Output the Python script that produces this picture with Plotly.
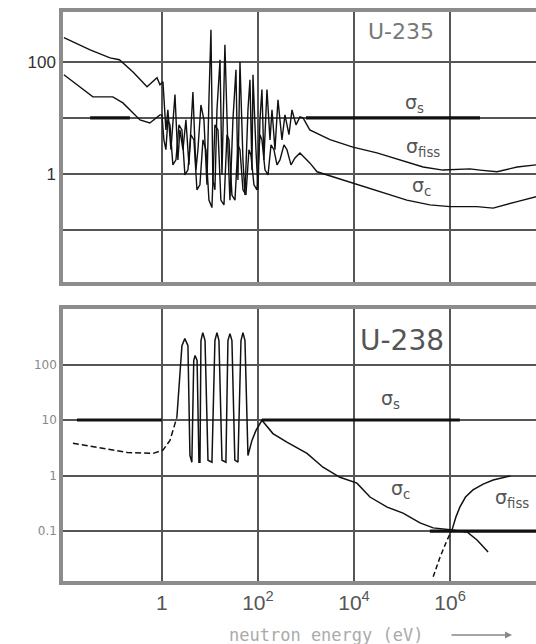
import plotly.graph_objects as go

# ---------------- U-235 (energies in eV, cross sections in barns) ----------------
u235_fis_E = [0.0091, 0.032, 0.083, 0.13, 0.25, 0.49, 0.79,
              0.91, 1.05, 1.21, 1.33, 1.54, 1.87, 2.15, 2.37, 2.74, 3.16, 3.65, 4.42,
              5.11, 5.62, 6.49, 7.5, 8.66, 9.53, 10.5, 11.5, 12.7, 14.0, 16.2, 17.8,
              20.5, 23.7, 26.1, 30.1, 34.8, 38.3, 42.2, 48.7, 53.6, 61.9, 68.1, 75.0,
              78.7, 90.8, 100, 110, 121, 133, 154, 178, 196, 226, 261, 316, 365, 442,
              511, 619, 750,
              870, 1200, 3160, 9500, 30000, 91000, 275000, 710000, 2.6e6, 4.2e6, 9.5e6,
              2.5e7, 6.2e7]
u235_fis_s = [270, 163, 118, 109, 66, 36, 52,
              39, 44, 6.1, 13.9, 2.7, 26, 1.78, 6.1, 2.7, 9.2, 1.45, 29,
              1.18, 2.7, 17, 9.2, 0.64, 21, 373, 0.78, 0.52, 13.9, 109, 0.96,
              201, 2.7, 0.34, 9.2, 72, 0.78, 100, 1.78, 0.42, 13.9, 48, 1.18,
              59, 2.7, 0.52, 9.2, 32, 1.78, 32, 4.05, 13.9, 2.7, 21, 4.05, 11.3, 5.0,
              13.9, 7.5, 10.4,
              10, 6.1, 4.1, 3.0, 2.37, 1.78, 1.33, 1.17, 1.23, 1.17, 1.09,
              1.33, 1.45]

u235_cap_E = [0.0091, 0.0365, 0.095, 0.154, 0.35, 0.56, 0.91,
              1.0, 1.10, 1.21, 1.33, 1.47, 1.69, 1.96, 2.26, 2.61, 3.01, 3.48, 4.02,
              4.64, 5.36, 6.19, 7.15, 8.25, 9.53, 11.0, 12.7, 14.7, 16.9, 19.6, 22.6,
              24.9, 28.7, 33.2, 38.3, 42.2, 48.7, 56.2, 64.9, 71.4, 82.5, 95.3, 110,
              121, 140, 162, 187, 215, 249, 287, 348, 402, 487, 590, 750,
              1200, 1700, 3650, 11500, 40000, 126000, 380000, 1.0e6, 3.6e6, 7.9e6,
              2.5e7, 6.2e7]
u235_cap_s = [59, 23.7, 23.7, 18.5, 9.2, 8.1, 11.3,
              11.3, 4.05, 2.7, 9.2, 7.5, 1.45, 1.78, 7.5, 6.1, 0.96, 1.18, 5.0,
              4.05, 0.52, 0.64, 4.05, 2.7, 0.34, 0.25, 7.5, 6.1, 0.34, 0.28, 5.0,
              4.05, 0.42, 0.34, 3.3, 2.7, 0.52, 0.42, 2.7, 2.18, 0.64, 0.52, 5.0,
              4.05, 1.18, 0.96, 3.3, 2.7, 1.45, 1.78, 3.3, 2.7, 1.45, 1.93, 2.37,
              1.57, 1.09, 0.89, 0.64, 0.46, 0.34, 0.28, 0.26, 0.26, 0.245,
              0.32, 0.39]

u235_sct_E = [0.032, 0.215, None, 1000, 4.2e6]
u235_sct_s = [10, 10, None, 10, 10]

# ---------------- U-238 ----------------
u238_sct_E = [0.017, 1.0, None, 121, 1.6e6]
u238_sct_s = [10, 10, None, 10, 10]

u238_cap_low_E = [0.014, 0.051, 0.19, 0.65, 1.05, 1.47, 1.7, 2.05]
u238_cap_low_s = [3.8, 3.1, 2.6, 2.5, 2.86, 4.3, 6.5, 11.2]

u238_cap_E = [2.05, 2.61, 3.0, 3.48, 3.83, 4.2, 4.6, 4.9, 5.4, 5.9, 6.2, 6.5, 7.1, 7.9,
              9.1, 11, 12.7, 14, 15.4, 17.8, 21.5, 23.7, 26.1, 28.7, 33, 38.3, 44.3,
              48.7, 53.6, 61.9, 75, 91, 121,
              205, 400, 1050, 2260, 5100, 11500, 21500, 49000, 105000, 237000, 446000,
              1.0e6, 2.26e6, 3.65e6, 6.2e6]
u238_cap_s = [11.2, 219, 293, 219, 2.3, 1.74, 118, 145, 118, 1.74, 1.74, 270, 376, 270,
              1.89, 1.74, 270, 376, 270, 1.89, 1.74, 270, 360, 270, 1.89, 1.74, 270,
              376, 270, 2.3, 4.3, 6.5, 9.9,
              5.7, 4.0, 2.5, 1.41, 0.93, 0.73, 0.41, 0.27, 0.21, 0.14, 0.114,
              0.105, 0.096, 0.069, 0.042]

u238_tail_E = [380000, 6.2e7]
u238_tail_s = [0.1, 0.1]

u238_fis_thr_E = [446000, 620000, 870000, 1.1e6]
u238_fis_thr_s = [0.015, 0.034, 0.069, 0.105]
u238_fis_E = [1.1e6, 1.33e6, 1.6e6, 2.1e6, 3.0e6, 4.9e6, 7.9e6, 1.8e7]
u238_fis_s = [0.105, 0.18, 0.27, 0.41, 0.55, 0.70, 0.83, 0.98]

x_tick_vals = [1, 100, 1e4, 1e6]
x_tick_text = ["1", "10<sup>2</sup>", "10<sup>4</sup>", "10<sup>6</sup>"]
top_y_vals = [0.1, 1, 10, 100]
top_y_text = ["", "1", "", "100"]
bot_y_vals = [0.1, 1, 10, 100]
bot_y_text = ["0.1", "1", "10", "100"]

W, H = 536, 644
ML, MR, MT, MB = 63, 0, 12, 63
PW, PH = W - ML - MR, H - MT - MB

def py(v):
    """paper y fraction for a pixel row"""
    return (H - MB - v) / PH

def px(v):
    return (v - ML) / PW

fig = go.Figure()

def line(xs, ys, xa, ya, width=1.6, dash="solid"):
    fig.add_trace(go.Scatter(x=xs, y=ys, xaxis=xa, yaxis=ya, mode="lines",
                             line=dict(color="#111", width=width, dash=dash),
                             connectgaps=False, hoverinfo="skip", showlegend=False))

line(u235_sct_E, u235_sct_s, "x", "y", width=3.2)
line(u235_fis_E, u235_fis_s, "x", "y", width=1.4)
line(u235_cap_E, u235_cap_s, "x", "y", width=1.4)

line(u238_sct_E, u238_sct_s, "x2", "y2", width=3.2)
line(u238_cap_low_E, u238_cap_low_s, "x2", "y2", width=1.5, dash="6px,3px")
line(u238_cap_E, u238_cap_s, "x2", "y2", width=1.5)
line(u238_tail_E, u238_tail_s, "x2", "y2", width=3.2)
line(u238_fis_thr_E, u238_fis_thr_s, "x2", "y2", width=1.5, dash="5px,3px")
line(u238_fis_E, u238_fis_s, "x2", "y2", width=1.5)

grid = "#555"
border = "#8c8c8c"
xcommon = dict(type="log", range=[-2.06, 7.79], tickvals=x_tick_vals, showgrid=True,
               gridcolor=grid, gridwidth=2, showline=True, mirror=True,
               linecolor=border, linewidth=3.5, ticks="", zeroline=False)
ycommon = dict(type="log", showgrid=True, gridcolor=grid, gridwidth=2, showline=True,
               mirror=False, linecolor=border, linewidth=3.5, ticks="", zeroline=False)

fig.update_layout(
    width=W, height=H, margin=dict(l=ML, r=MR, t=MT, b=MB),
    paper_bgcolor="white", plot_bgcolor="white",
    font=dict(family="DejaVu Sans", color="#555"),
    xaxis=dict(**xcommon, domain=[0, 1], anchor="y", showticklabels=False),
    yaxis=dict(**ycommon, domain=[py(282), 1], anchor="x", range=[-1.93, 2.89],
               tickvals=top_y_vals, ticktext=top_y_text,
               tickfont=dict(size=17, color="#333", family="Liberation Sans Narrow, Liberation Sans")),
    xaxis2=dict(**xcommon, domain=[0, 1], anchor="y2", ticktext=x_tick_text,
                tickfont=dict(size=21, color="#555", family="Liberation Sans")),
    yaxis2=dict(**ycommon, domain=[0, py(309)], anchor="x2", range=[-1.9, 3.0],
                tickvals=bot_y_vals, ticktext=bot_y_text,
                tickfont=dict(size=12, color="#888")),
)

def label(text, lx, ly, xa, ya, size=19, color="#555"):
    fig.add_annotation(text=text, x=lx, y=ly, xref=xa, yref=ya, showarrow=False,
                       font=dict(size=size, color=color, family="DejaVu Sans"))

label("U-235", 4.98, 2.54, "x", "y", size=22, color="#777")
label("σ<sub>s</sub>", 5.27, 1.25, "x", "y")
label("σ<sub>fiss</sub>", 5.44, 0.47, "x", "y")
label("σ<sub>c</sub>", 5.40, -0.22, "x", "y")

label("U-238", 5.0, 2.43, "x2", "y2", size=28, color="#555")
label("σ<sub>s</sub>", 4.77, 1.37, "x2", "y2")
label("σ<sub>c</sub>", 4.96, -0.26, "x2", "y2")
label("σ<sub>fiss</sub>", 7.30, -0.42, "x2", "y2")

fig.add_annotation(text="neutron energy (eV)", x=px(326), y=py(635), xref="paper",
                   yref="paper", showarrow=False, yanchor="middle",
                   font=dict(size=17, color="#aaa", family="DejaVu Sans Mono"))
fig.add_annotation(text="", x=px(512), y=py(635), ax=-62, ay=0,
                   xref="paper", yref="paper", axref="pixel", ayref="pixel",
                   showarrow=True, arrowhead=2, arrowsize=1, arrowwidth=1.4,
                   arrowcolor="#888")

fig.write_html("out.html")
